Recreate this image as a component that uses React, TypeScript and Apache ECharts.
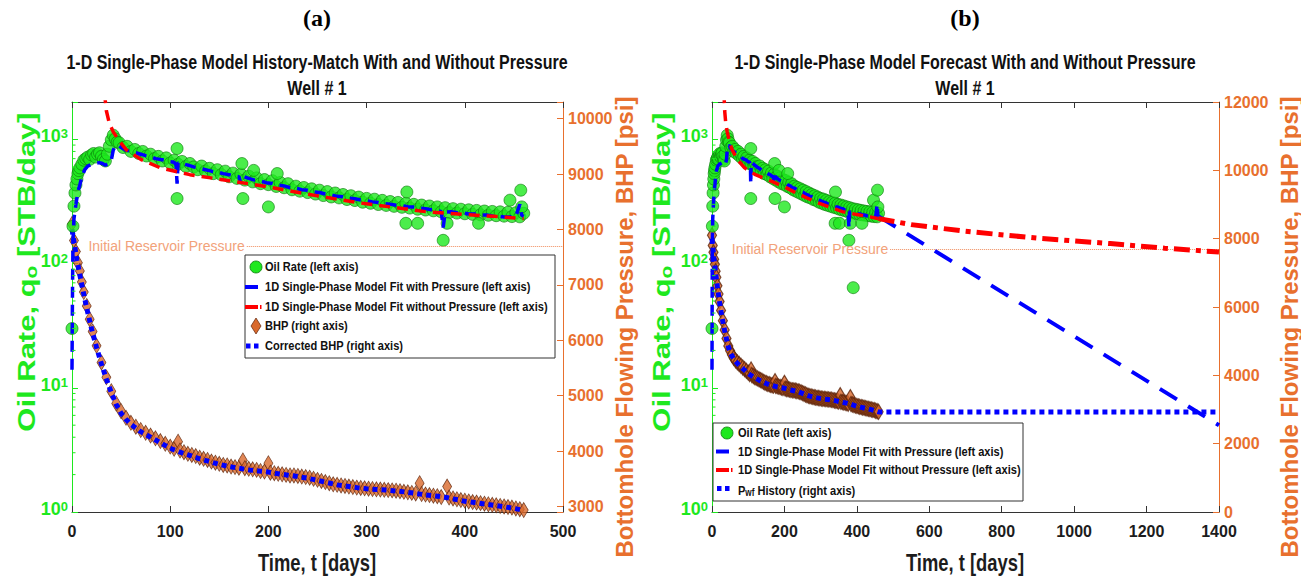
import { useEffect, useRef } from 'react';
import * as echarts from 'echarts';

const SANS = '"Liberation Sans", Arial, Helvetica, sans-serif';
const SERIF = '"Liberation Serif", "Times New Roman", serif';

const GREEN = '#1ee81e';
const GREEN_EDGE = '#0b7a0b';
const ORANGE = '#e8702e';
const PRESSURE_NOTE = '#f2a27a';
const DIAMOND = '#d9692c';
const DIAMOND_EDGE = '#5e240a';
const BLUE = '#0000ff';
const RED = '#ff0000';
const INK = '#1c1c1c';
const FRAME = '#333333';

// Measured oil rate [day, STB/day]
const oilRate: [number, number][] = [
  [0, 30], [1, 200], [2, 290], [3, 370], [4, 430], [5, 480], [6, 530], [7, 560], [8, 590], [10, 630],
  [12, 680], [14, 700], [16, 720], [18, 690], [20, 750], [22, 770], [24, 720], [26, 760], [28, 780],
  [30, 730], [32, 690], [34, 670], [36, 760], [38, 880], [40, 990], [42, 1080], [44, 1010], [46, 950],
  [48, 940], [52, 860], [56, 880], [60, 800], [64, 830], [68, 770], [72, 800], [76, 735], [80, 760],
  [84, 700], [88, 730], [92, 670], [96, 710], [100, 645], [104, 680], [108, 630], [112, 665], [116, 605],
  [120, 640], [124, 600], [128, 570], [132, 610], [136, 555], [140, 585], [144, 530], [148, 570],
  [152, 520], [156, 555], [160, 500], [164, 535], [168, 485], [172, 525], [176, 470], [180, 505],
  [184, 455], [188, 490], [192, 440], [196, 475], [200, 432], [204, 465], [208, 418], [212, 450],
  [216, 408], [220, 440], [224, 393], [228, 420], [232, 383], [236, 410], [240, 373], [244, 400],
  [248, 363], [252, 390], [256, 353], [260, 380], [264, 344], [268, 370], [272, 338], [276, 360],
  [280, 328], [284, 352], [288, 322], [292, 343], [296, 312], [300, 335], [304, 306], [308, 330],
  [312, 299], [316, 323], [320, 294], [324, 316], [328, 289], [332, 311], [336, 284], [340, 306],
  [344, 280], [348, 300], [352, 274], [356, 296], [360, 270], [364, 291], [368, 266], [372, 286],
  [376, 261], [380, 282], [384, 257], [388, 277], [392, 255], [396, 274], [400, 252], [404, 271],
  [408, 249], [412, 268], [416, 247], [420, 265], [424, 245], [428, 263], [432, 243], [436, 261],
  [440, 241], [444, 259], [448, 239], [452, 257], [456, 238], [460, 254],
  [107, 844], [107, 334], [173, 639], [174, 334], [185, 563], [200, 286], [209, 531], [341, 377],
  [340, 211], [352, 211], [378, 154], [382, 211], [390, 64], [414, 211], [446, 324], [457, 390], [458, 286],
];

// Measured bottomhole pressure [day, psi]
const bhp: [number, number][] = [
  [0, 8100], [2, 7800], [4, 7600], [6, 7400], [8, 7250], [10, 7050], [12, 6870], [15, 6620], [18, 6380],
  [21, 6160], [25, 5900], [30, 5600], [35, 5330], [40, 5080], [45, 4860], [50, 4720], [55, 4600],
  [60, 4510], [65, 4440], [70, 4380], [75, 4330], [80, 4280], [85, 4230], [90, 4180], [95, 4130],
  [100, 4080], [104, 4040], [108, 4170], [110, 4010], [114, 3980], [118, 3950], [122, 3930], [126, 3910],
  [130, 3880], [134, 3860], [138, 3840], [142, 3810], [146, 3790], [150, 3770], [154, 3750], [158, 3740],
  [162, 3720], [166, 3710], [170, 3700], [174, 3830], [176, 3690], [180, 3680], [184, 3670], [188, 3660],
  [192, 3640], [196, 3630], [200, 3780], [202, 3610], [206, 3600], [210, 3590], [214, 3580], [218, 3570],
  [222, 3560], [226, 3560], [230, 3550], [234, 3540], [238, 3530], [242, 3520], [246, 3500], [250, 3480],
  [254, 3460], [258, 3440], [262, 3420], [266, 3400], [270, 3390], [274, 3380], [278, 3370], [282, 3360],
  [286, 3350], [290, 3340], [294, 3335], [298, 3328], [302, 3320], [306, 3315], [310, 3310], [314, 3305],
  [318, 3300], [322, 3295], [326, 3290], [330, 3285], [334, 3275], [338, 3265], [342, 3255], [346, 3245],
  [350, 3235], [354, 3420], [356, 3225], [360, 3215], [364, 3205], [368, 3195], [372, 3185], [376, 3170],
  [382, 3360], [384, 3160], [388, 3145], [392, 3130], [396, 3115], [400, 3105], [404, 3090], [408, 3080],
  [412, 3070], [416, 3060], [420, 3050], [424, 3040], [428, 3030], [432, 3020], [436, 3010], [440, 3000],
  [444, 2990], [448, 2980], [452, 2965], [456, 2950], [460, 2935],
];

// Corrected BHP / Pwf history [day, psi]
const correctedBhp: [number, number][] = [
  [0, 8000], [5, 7450], [10, 7000], [15, 6580], [20, 6200], [25, 5870], [30, 5570], [35, 5300], [40, 5060],
  [45, 4840], [50, 4680], [55, 4570], [60, 4480], [70, 4350], [80, 4250], [90, 4150], [100, 4050],
  [110, 3980], [120, 3920], [130, 3860], [140, 3810], [150, 3760], [160, 3720], [170, 3690], [180, 3660],
  [190, 3640], [200, 3620], [210, 3590], [220, 3565], [230, 3540], [240, 3510], [250, 3470], [260, 3430],
  [270, 3390], [280, 3365], [290, 3340], [300, 3320], [310, 3305], [320, 3295], [330, 3280], [340, 3260],
  [350, 3235], [360, 3210], [370, 3190], [380, 3165], [390, 3130], [400, 3095], [410, 3070], [420, 3045],
  [430, 3020], [440, 2995], [450, 2965], [460, 2930],
];
// Pwf held constant over the forecast period
const pwfForecast: [number, number][] = [[1400, 2930]];

// 1D single-phase model fitted with pressure [day, STB/day]
const fitWithPressure: [number, number][] = [
  [0, 14], [0.5, 60], [1, 150], [2, 230], [4, 300], [6, 380], [8, 430], [10, 500], [13, 570], [16, 610],
  [20, 630], [24, 640], [28, 650], [31, 640], [34, 620], [37, 640], [40, 680], [42, 820], [44, 880],
  [47, 900], [50, 860], [55, 820], [60, 800], [65, 780], [70, 760], [75, 740], [80, 730], [85, 700],
  [90, 690], [95, 680], [100, 660], [104, 655], [106, 620], [107, 440], [108, 650], [112, 640], [118, 620],
  [124, 600], [130, 585], [136, 570], [142, 555], [148, 545], [154, 530], [160, 520], [166, 505],
  [170, 500], [172, 440], [174, 505], [180, 485], [186, 470], [192, 462], [198, 448], [204, 442],
  [210, 428], [216, 422], [222, 408], [228, 404], [234, 393], [240, 390], [246, 378], [252, 374],
  [258, 363], [264, 358], [270, 348], [276, 345], [282, 336], [288, 333], [294, 325], [300, 321],
  [306, 314], [312, 311], [318, 304], [324, 301], [330, 295], [336, 293], [342, 287], [348, 285],
  [354, 279], [360, 277], [366, 271], [372, 269], [376, 262], [378, 195], [380, 260], [386, 262],
  [392, 257], [398, 256], [404, 251], [410, 251], [416, 246], [422, 246], [428, 242], [434, 241],
  [440, 237], [446, 238], [452, 240], [456, 300], [458, 245], [460, 240],
];
const forecastWithPressure: [number, number][] = [[460, 240], [1400, 5]];

// 1D single-phase model fitted without pressure [day, STB/day]
const fitWithoutPressure: [number, number][] = [
  [33, 2400], [35, 1700], [38, 1350], [42, 1150], [47, 1000], [55, 830], [70, 690], [90, 590],
  [120, 520], [160, 465], [200, 415], [225, 380], [260, 340], [293, 308], [330, 282], [360, 262],
  [400, 248], [430, 240], [460, 230],
];
const forecastWithoutPressure: [number, number][] = [
  [460, 230], [550, 206], [700, 182], [900, 160], [1100, 145], [1250, 133], [1400, 124],
];

const initialPressure = 7700;
const logMinorTicks = [2, 3, 4, 5, 6, 7, 8, 9, 20, 30, 40, 50, 60, 70, 80, 90, 200, 300, 400, 500, 600, 700, 800, 900];

const tickFont = { fontFamily: SANS, fontWeight: 'bold' as const, fontSize: 16 };

function xBottom(gridIndex: number, max: number, interval: number) {
  return {
    type: 'value', gridIndex, position: 'bottom', min: 0, max, interval,
    axisLine: { show: true, onZero: false, lineStyle: { color: FRAME, width: 1 } },
    axisTick: { show: true, inside: true, length: 6, lineStyle: { color: FRAME } },
    axisLabel: { color: INK, margin: 11, formatter: (v: number) => String(v), ...tickFont },
    splitLine: { show: false },
  };
}
function xTop(gridIndex: number, max: number, interval: number) {
  return {
    type: 'value', gridIndex, position: 'top', min: 0, max, interval,
    axisLine: { show: true, onZero: false, lineStyle: { color: FRAME, width: 1 } },
    axisTick: { show: true, inside: true, length: 6, lineStyle: { color: FRAME } },
    axisLabel: { show: false },
    splitLine: { show: false },
  };
}
function yLog(gridIndex: number) {
  return {
    type: 'log', logBase: 10, gridIndex, position: 'left', min: 1, max: 2000,
    axisLine: { show: true, onZero: false, lineStyle: { color: GREEN, width: 1 } },
    axisTick: { show: true, inside: true, length: 6, lineStyle: { color: GREEN } },
    axisLabel: {
      margin: 4,
      padding: [0, 0, 6, 0],
      formatter: (v: number) => {
        const e = Math.log10(v);
        if (Math.abs(e - Math.round(e)) > 1e-6) return '';
        return `{b|10}{e|${Math.round(e)}}`;
      },
      rich: {
        b: { fontFamily: SANS, fontWeight: 'bold', fontSize: 18, color: GREEN, lineHeight: 18, verticalAlign: 'bottom', padding: [6, 0, 0, 0] },
        e: { fontFamily: SANS, fontWeight: 'bold', fontSize: 13, color: GREEN, lineHeight: 13, verticalAlign: 'top' },
      },
    },
    splitLine: { show: false },
  };
}
function yPressure(gridIndex: number, min: number, max: number, step: number) {
  return {
    type: 'value', gridIndex, position: 'right', min, max, minInterval: step, maxInterval: step, splitNumber: 7,
    axisLine: { show: true, onZero: false, lineStyle: { color: ORANGE, width: 1 } },
    axisTick: { show: true, inside: true, length: 6, lineStyle: { color: ORANGE } },
    axisLabel: {
      color: ORANGE, margin: 5, ...tickFont,
      formatter: (v: number) => (v % step === 0 ? String(v) : ''),
    },
    splitLine: { show: false },
  };
}

function minorTickSeries(xAxisIndex: number, yAxisIndex: number) {
  return {
    type: 'custom', xAxisIndex, yAxisIndex, silent: true, z: 10, clip: false,
    data: logMinorTicks.map((v) => [0, v]),
    renderItem: (params: any, api: any) => {
      const y = api.coord([0, api.value(1)])[1];
      const x = params.coordSys.x;
      return { type: 'line', shape: { x1: x, y1: y, x2: x + 3.5, y2: y }, style: { stroke: GREEN, lineWidth: 1 } };
    },
  };
}

function historySeries(xIdx: number, yLeft: number, yRight: number, noteStartDay: number, noteEndDay: number,
  pwfName: string, pwfData: [number, number][], diamondEdge: number) {
  return [
    {
      name: 'BHP (right axis)', type: 'scatter', xAxisIndex: xIdx, yAxisIndex: yRight, data: bhp,
      symbol: 'diamond', symbolSize: [9, 15], z: 2,
      itemStyle: { color: DIAMOND, borderColor: DIAMOND_EDGE, borderWidth: diamondEdge },
      markLine: {
        silent: true, symbol: ['none', 'none'], animation: false,
        lineStyle: { type: 'dotted', color: '#f08c5c', width: 1 },
        label: {
          show: true, position: 'start', distance: 2, formatter: 'Initial Reservoir Pressure',
          color: PRESSURE_NOTE, fontFamily: SANS, fontSize: 14,
        },
        data: [[{ coord: [noteStartDay, initialPressure] }, { coord: [noteEndDay, initialPressure] }]],
      },
    },
    {
      name: pwfName, type: 'line', xAxisIndex: xIdx, yAxisIndex: yRight, data: pwfData,
      symbol: 'none', z: 3, lineStyle: { color: BLUE, width: 5, type: [5, 4] },
    },
    {
      name: 'Oil Rate (left axis)', type: 'scatter', xAxisIndex: xIdx, yAxisIndex: yLeft, data: oilRate,
      symbol: 'circle', symbolSize: 12, z: 4,
      itemStyle: { color: GREEN, borderColor: GREEN_EDGE, borderWidth: 0.8 },
    },
    {
      name: '1D Single-Phase Model Fit with Pressure (left axis)', type: 'line', xAxisIndex: xIdx, yAxisIndex: yLeft,
      data: fitWithPressure, symbol: 'none', z: 5, lineStyle: { color: BLUE, width: 3.5, type: [11, 7] },
    },
    {
      name: '1D Single-Phase Model Fit without Pressure (left axis)', type: 'line', xAxisIndex: xIdx, yAxisIndex: yLeft,
      data: fitWithoutPressure, symbol: 'none', z: 6, lineStyle: { color: RED, width: 3.5, type: [11, 7] },
    },
  ];
}

// Condensed bold text used for titles, axis titles and legend entries
function condensedText(x: number, y: number, text: string, fontSize: number, squeeze: number, extra: any = {}) {
  return {
    type: 'text', z: 101, x, y, scaleX: squeeze,
    style: { text, fontFamily: SANS, fontWeight: 'bold', fontSize, fill: '#111', align: 'center', verticalAlign: 'middle', ...extra },
  };
}

const LEGEND_SIZE = 13.5;
const LEGEND_SQUEEZE = 0.82;

function legendRows(boxX: number, boxY: number, boxW: number, boxH: number, iconX: number, textX: number, rowY: number[], rows: { icon: string; text: string; rich?: any }[]) {
  const els: any[] = [
    { type: 'rect', z: 100, shape: { x: boxX, y: boxY, width: boxW, height: boxH }, style: { fill: '#fff', stroke: '#333', lineWidth: 1 } },
  ];
  rows.forEach((r, i) => {
    const y = rowY[i];
    if (r.icon === 'circle') {
      els.push({ type: 'circle', z: 101, shape: { cx: iconX, cy: y, r: 6 }, style: { fill: GREEN, stroke: GREEN_EDGE, lineWidth: 0.8 } });
    } else if (r.icon === 'blue') {
      els.push({ type: 'rect', z: 101, shape: { x: iconX - 11, y: y - 2, width: 13, height: 4 }, style: { fill: BLUE } });
    } else if (r.icon === 'red') {
      els.push({ type: 'rect', z: 101, shape: { x: iconX - 11, y: y - 2, width: 13, height: 4 }, style: { fill: RED } });
      els.push({ type: 'rect', z: 101, shape: { x: iconX + 4, y: y - 2, width: 1.5, height: 4 }, style: { fill: RED } });
    } else if (r.icon === 'diamond') {
      els.push({ type: 'polygon', z: 101, shape: { points: [[iconX, y - 8], [iconX + 5, y], [iconX, y + 8], [iconX - 5, y]] }, style: { fill: DIAMOND, stroke: DIAMOND_EDGE, lineWidth: 0.7 } });
    } else if (r.icon === 'dots') {
      els.push({ type: 'rect', z: 101, shape: { x: iconX - 10, y: y - 2.5, width: 4.5, height: 5 }, style: { fill: BLUE } });
      els.push({ type: 'rect', z: 101, shape: { x: iconX - 2, y: y - 2.5, width: 4.5, height: 5 }, style: { fill: BLUE } });
    }
    els.push(condensedText(textX, y, r.text, LEGEND_SIZE, LEGEND_SQUEEZE, { align: 'left', rich: r.rich }));
  });
  return els;
}

function verticalName(x: number, y: number, text: string, rich: any, squeeze: number) {
  return { type: 'text', z: 50, x, y, rotation: Math.PI / 2, scaleY: squeeze, style: { text, rich, align: 'center', verticalAlign: 'middle' } };
}

const oilNameRich = {
  m: { fontFamily: SANS, fontWeight: 'bold', fontSize: 31, fill: GREEN, lineHeight: 36, verticalAlign: 'bottom' },
  s: { fontFamily: SANS, fontWeight: 'bold', fontSize: 21, fill: GREEN, lineHeight: 24, verticalAlign: 'bottom' },
};
const pressureNameRich = {
  m: { fontFamily: SANS, fontWeight: 'bold', fontSize: 24, fill: ORANGE, lineHeight: 28 },
};
const pwfRich = {
  a: { fontFamily: SANS, fontWeight: 'bold', fontSize: LEGEND_SIZE, fill: '#111', lineHeight: 18, verticalAlign: 'bottom' },
  s: { fontFamily: SANS, fontWeight: 'bold', fontSize: 10, fill: '#111', lineHeight: 10, verticalAlign: 'bottom' },
};

const TITLE_SIZE = 20;
const TITLE_SQUEEZE = 0.8;

export default function App() {
  const ref = useRef<HTMLDivElement>(null);
  useEffect(() => {
    if (!ref.current) return;
    const chart = echarts.init(ref.current, undefined, { renderer: 'svg' });
    const panelTag = { fontFamily: SERIF, fontWeight: 'bold', fontSize: 24, color: '#000' };
    chart.setOption({
      animation: false,
      backgroundColor: '#ffffff',
      title: [
        { text: '(a)', left: 317, top: 6, textAlign: 'center', padding: 0, textStyle: panelTag },
        { text: '(b)', left: 965, top: 6, textAlign: 'center', padding: 0, textStyle: panelTag },
      ],
      grid: [
        { left: 72, top: 102, width: 491, height: 410 },
        { left: 712, top: 102, width: 507, height: 410 },
      ],
      xAxis: [xBottom(0, 500, 100), xTop(0, 500, 100), xBottom(1, 1400, 200), xTop(1, 1400, 200)],
      yAxis: [yLog(0), yPressure(0, 2900, 10300, 1000), yLog(1), yPressure(1, 0, 12000, 2000)],
      series: [
        ...historySeries(0, 0, 1, 178, 500, 'Corrected BHP (right axis)', correctedBhp, 0.8),
        ...historySeries(2, 2, 3, 492, 1400, 'Pwf History (right axis)', [...correctedBhp, ...pwfForecast], 1.3),
        {
          name: '1D Single-Phase Model Forecast with Pressure', type: 'line', xAxisIndex: 2, yAxisIndex: 2,
          data: forecastWithPressure, symbol: 'none', z: 5, lineStyle: { color: BLUE, width: 4, type: [20, 13] },
        },
        {
          name: '1D Single-Phase Model Forecast without Pressure', type: 'line', xAxisIndex: 2, yAxisIndex: 2,
          data: forecastWithoutPressure, symbol: 'none', z: 6, lineStyle: { color: RED, width: 5, type: [16, 6, 5, 6] },
        },
        minorTickSeries(0, 0),
        minorTickSeries(2, 2),
      ],
      graphic: [
        condensedText(317, 62, '1-D Single-Phase Model History-Match With and Without Pressure', TITLE_SIZE, TITLE_SQUEEZE),
        condensedText(317, 88, 'Well # 1', TITLE_SIZE, TITLE_SQUEEZE),
        condensedText(965, 62, '1-D Single-Phase Model Forecast With and Without Pressure', TITLE_SIZE, TITLE_SQUEEZE),
        condensedText(965, 88, 'Well # 1', TITLE_SIZE, TITLE_SQUEEZE),
        condensedText(317, 563, 'Time, t [days]', 23, 0.8, { fill: INK }),
        condensedText(965, 563, 'Time, t [days]', 23, 0.8, { fill: INK }),
        verticalName(25, 272, '{m|Oil Rate, q}{s|o}{m| [STB/day]}', oilNameRich, 0.8),
        verticalName(624, 327, '{m|Bottomhole Flowing Pressure, BHP [psi]}', pressureNameRich, 1),
        verticalName(660, 272, '{m|Oil Rate, q}{s|o}{m| [STB/day]}', oilNameRich, 0.8),
        verticalName(1289, 327, '{m|Bottomhole Flowing Pressure, BHP [psi]}', pressureNameRich, 1),
        ...legendRows(245, 255, 310, 103, 256, 265, [267, 287, 307, 326, 346], [
          { icon: 'circle', text: 'Oil Rate (left axis)' },
          { icon: 'blue', text: '1D Single-Phase Model Fit with Pressure (left axis)' },
          { icon: 'red', text: '1D Single-Phase Model Fit without Pressure (left axis)' },
          { icon: 'diamond', text: 'BHP (right axis)' },
          { icon: 'dots', text: 'Corrected BHP (right axis)' },
        ]),
        ...legendRows(713, 423, 310, 78, 727, 738, [433, 451.5, 470, 488.5], [
          { icon: 'circle', text: 'Oil Rate (left axis)' },
          { icon: 'blue', text: '1D Single-Phase Model Fit with Pressure (left axis)' },
          { icon: 'red', text: '1D Single-Phase Model Fit without Pressure (left axis)' },
          { icon: 'dots', text: '{a|P}{s|wf}{a| History (right axis)}', rich: pwfRich },
        ]),
      ],
    });
    return () => chart.dispose();
  }, []);
  return <div ref={ref} style={{ position: 'fixed', left: 0, top: 0, width: 1301, height: 581, background: '#fff' }} />;
}
